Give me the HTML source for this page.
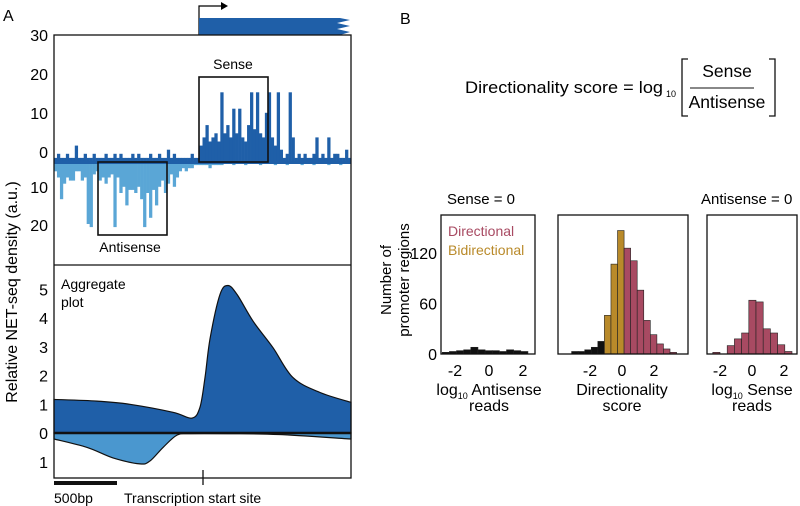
<!DOCTYPE html>
<html><head><meta charset="utf-8"><style>
html,body{margin:0;padding:0;background:#fff}
svg{display:block;font-family:"Liberation Sans",Arial,sans-serif}
</style></head><body>
<svg id="fig" width="800" height="506" viewBox="0 0 800 506">
<g id="panelA"></g>
<g id="panelB"></g>
</svg>
<script>
// ---- Panel A: NET-seq track data ----
const senseTrack=[1,2,1,1,2,1,1,4,1,1,2,1,1,2,1,1,1,2,1,1,2,1,2,1,1,1,2,1,2,1,1,1,2,1,1,2,1,1,3,1,2,1,1,1,1,1,2,1,1,
4,6,9,5,6,7,5,17,7,9,6,13,7,13,6,5,9,17,8,17,7,6,12,17,
6,4,17,3,1,2,17,6,1,2,1,2,1,1,2,6,1,2,1,6,1,2,2,1,1,3,1];
const antiTrack=[3,5,12,7,5,6,6,3,3,6,5,20,21,4,3,6,5,7,5,4,21,5,10,8,14,9,9,10,8,12,21,10,18,9,14,8,6,10,7,4,8,5,3,2,3,2,2,1,1,1,
1,1,2,1,1,1,1,0,0,0,1,0,0,0,1,0,0,0,0,1,0,0,0,0,1,0,0,0,1,0,0,0,0,1,0,0,0,1,0,0,0,0,1,0,0,0,1,0,0,0];
const trackTicksUp=[30,20,10,0];
const trackTicksDown=[10,20];
// ---- Aggregate plot data ----
const aggSensePos=[-1183,-841,-580,-238,-87,-24,16,56,135,198,270,397,556,714,929,1183];
const aggSenseVal=[1.17,1.11,1.0,0.72,0.52,0.9,1.93,3.3,4.83,5.14,4.83,3.9,2.97,1.93,1.41,1.07];
const aggAntiPos=[-1183,-920,-714,-500,-420,-317,-206,-100,200,600,1183];
const aggAntiVal=[0.2,0.48,0.83,1.03,0.93,0.48,0.07,0.02,0.02,0.05,0.2];
const aggTicksUp=[5,4,3,2,1,0];
const aggTicksDown=[1];
// ---- Panel B histograms ----
const h1Start=-2.75, h1Width=0.42;
const h1Counts=[2,3,4,5,8,5,4,4,3,5,4,3];
const h2Start=-3.15, h2Width=0.41;
const h2Counts=[3,3,5,8,15,46,107,147,126,111,76,40,23,12,6,2];
const h2Class=["n","n","n","n","n","b","b","b","d","d","d","d","d","d","d","d"];
const h3Start=-2.45, h3Width=0.45;
const h3Counts=[2,0,10,18,25,64,62,30,25,11,3];
const histTicksY=[0,60,120];
const histTicksX=[-2,0,2];

const NS="http://www.w3.org/2000/svg";
function mk(parent,tag,attrs,text){const e=document.createElementNS(NS,tag);for(const k in attrs)e.setAttribute(k,attrs[k]);if(text!==undefined)e.textContent=text;parent.appendChild(e);return e;}
const A=document.getElementById('panelA'), B=document.getElementById('panelB');
const DB="#1f5fa8", LB="#5aa6d6", RED="#a84a62", GOLD="#b98a2a";

let t=mk(A,'text',{x:3,y:21,'font-size':16},'A');

let g=mk(A,'path',{d:'M199,35 V6 H222',fill:'none',stroke:'#000','stroke-width':1.2});

g=mk(A,'path',{d:'M221,2 L228,6 L221,10 Z',fill:'#000'});

g=mk(A,'path',{d:'M199,18 H340 L350,20 L337,23 L350,26 L337,29 L350,32 L340,35 H199 Z',fill:DB});


const X0=54,X1=351,BASE=162;
const sxTrack=i=>X0+i*(X1-X0)/senseTrack.length;
const syUp=v=>BASE-4.1*v;
const syDown=v=>BASE+3.1*v;
const tickLabUp=v=>35+(30-v)*3.9;
const tickLabDown=v=>149+v*3.8;
const bw=(X1-X0)/senseTrack.length;
antiTrack.forEach((v,i)=>{if(v<=0)return;const r=mk(A,'rect',{x:sxTrack(i),y:BASE,width:bw+0.3,height:syDown(v)-BASE,fill:LB});
});
senseTrack.forEach((v,i)=>{const r=mk(A,'rect',{x:sxTrack(i),y:syUp(v),width:bw+0.3,height:BASE-syUp(v)+1,fill:DB});
});
g=mk(A,'rect',{x:X0,y:BASE-1,width:X1-X0,height:3,fill:DB});

trackTicksUp.forEach(v=>{const e=mk(A,'text',{x:48,y:tickLabUp(v)+6,'font-size':16,'text-anchor':'end'},String(v));
});
trackTicksDown.forEach(v=>{const e=mk(A,'text',{x:48,y:tickLabDown(v)+6,'font-size':16,'text-anchor':'end'},String(v));
});
g=mk(A,'rect',{x:199,y:77,width:69,height:85,fill:'none',stroke:'#111','stroke-width':1.6});

g=mk(A,'rect',{x:98,y:162,width:69,height:73,fill:'none',stroke:'#111','stroke-width':1.6});

t=mk(A,'text',{x:233,y:69,'font-size':14,'text-anchor':'middle'},'Sense');

t=mk(A,'text',{x:130,y:252,'font-size':14,'text-anchor':'middle'},'Antisense');


const sxAgg=bp=>203+bp*63/500;
const syAgg=v=>433-28.7*v;
const syAggD=v=>433+30*v;
function smooth(pts){let d='M'+pts[0][0]+','+pts[0][1];for(let i=0;i<pts.length-1;i++){const p0=pts[Math.max(0,i-1)],p1=pts[i],p2=pts[i+1],p3=pts[Math.min(pts.length-1,i+2)];
const c1=[p1[0]+(p2[0]-p0[0])/6,p1[1]+(p2[1]-p0[1])/6],c2=[p2[0]-(p3[0]-p1[0])/6,p2[1]-(p3[1]-p1[1])/6];
d+=' C'+c1[0].toFixed(1)+','+c1[1].toFixed(1)+' '+c2[0].toFixed(1)+','+c2[1].toFixed(1)+' '+p2[0].toFixed(1)+','+p2[1].toFixed(1);}return d;}
const sp=aggSensePos.map((p,i)=>[Math.max(X0,Math.min(X1,sxAgg(p))),syAgg(aggSenseVal[i])]);
const ap=aggAntiPos.map((p,i)=>[Math.max(X0,Math.min(X1,sxAgg(p))),syAggD(aggAntiVal[i])]);
g=mk(A,'path',{d:smooth(ap)+' L'+X1+',433 L'+X0+',433 Z',fill:'#4a97cf',stroke:'#111','stroke-width':1.2});

g=mk(A,'path',{d:smooth(sp)+' L'+X1+',433 L'+X0+',433 Z',fill:DB,stroke:'#111','stroke-width':1.2});

g=mk(A,'line',{x1:X0,x2:X1,y1:433,y2:433,stroke:'#111','stroke-width':2.5});

aggTicksUp.forEach(v=>{const e=mk(A,'text',{x:48,y:syAgg(v)+6,'font-size':16,'text-anchor':'end'},String(v));
});
aggTicksDown.forEach(v=>{const e=mk(A,'text',{x:48,y:syAggD(v)+5,'font-size':16,'text-anchor':'end'},String(v));
});
t=mk(A,'text',{x:61,y:289,'font-size':14},'Aggregate');

t=mk(A,'text',{x:61,y:307,'font-size':14},'plot');

g=mk(A,'rect',{x:X0,y:35,width:X1-X0,height:443,fill:'none',stroke:'#111','stroke-width':1.3});

g=mk(A,'line',{x1:X0,x2:X1,y1:265,y2:265,stroke:'#111','stroke-width':1.3});

g=mk(A,'line',{x1:sxAgg(0),x2:sxAgg(0),y1:470,y2:485,stroke:'#111','stroke-width':1.3});

g=mk(A,'rect',{x:54,y:481,width:63,height:4,fill:'#111'});

t=mk(A,'text',{x:54,y:503,'font-size':14},'500bp');

t=mk(A,'text',{x:124,y:503,'font-size':14},'Transcription start site');

t=mk(A,'text',{x:0,y:0,'font-size':16,'text-anchor':'middle',transform:'translate(17,292) rotate(-90)'},'Relative NET-seq density (a.u.)');


// ---- Panel B ----
t=mk(B,'text',{x:400,y:24,'font-size':16},'B');

t=mk(B,'text',{x:465,y:93,'font-size':17,textLength:198,lengthAdjust:'spacingAndGlyphs'},'Directionality score = log');

t=mk(B,'text',{x:666,y:97,'font-size':9},'10');

t=mk(B,'text',{x:727,y:77,'font-size':17.5,'text-anchor':'middle'},'Sense');

g=mk(B,'line',{x1:690,x2:754,y1:88,y2:88,stroke:'#111','stroke-width':1});

t=mk(B,'text',{x:727,y:108,'font-size':17.5,'text-anchor':'middle'},'Antisense');

g=mk(B,'path',{d:'M688,59 H682 V116 H688 M769,59 H775 V116 H769',fill:'none',stroke:'#111','stroke-width':1.3});


const HBASE=354;
const syH=v=>HBASE-0.84*v;
function hist(x0,x1,zeroX,unit,start,width,counts,colorFn,name){
 const sx=v=>zeroX+v*unit;
 counts.forEach((c,i)=>{const xa=sx(start+i*width),xb=sx(start+(i+1)*width);
  const r=mk(B,'rect',{x:xa,y:syH(c),width:xb-xa,height:HBASE-syH(c),fill:colorFn(i),stroke:'#222','stroke-width':0.6});
  });
 const f=mk(B,'rect',{x:x0,y:215,width:x1-x0,height:HBASE-215,fill:'none',stroke:'#111','stroke-width':1.3});
 
 histTicksX.forEach(v=>{const e=mk(B,'text',{x:sx(v),y:376,'font-size':16,'text-anchor':'middle'},v<0?'-'+Math.abs(v):String(v));
  });
}
hist(441,535,489,17,h1Start,h1Width,h1Counts,()=>'#111','hist-sense-zero');
hist(558,688,622,16,h2Start,h2Width,h2Counts,i=>h2Class[i]==='n'?'#111':h2Class[i]==='b'?GOLD:RED,'hist-directionality');
hist(707,797,752,16,h3Start,h3Width,h3Counts,()=>RED,'hist-antisense-zero');
histTicksY.forEach(v=>{const e=mk(B,'text',{x:437,y:syH(v)+6,'font-size':16,'text-anchor':'end'},String(v));
 });
t=mk(B,'text',{x:0,y:0,'font-size':15,'text-anchor':'middle',transform:'translate(391,280) rotate(-90)'},'Number of');

t=mk(B,'text',{x:0,y:0,'font-size':15,'text-anchor':'middle',transform:'translate(409,280) rotate(-90)'},'promoter regions');

t=mk(B,'text',{x:447,y:204,'font-size':15},'Sense = 0');

t=mk(B,'text',{x:701,y:204,'font-size':15},'Antisense = 0');

t=mk(B,'text',{x:448,y:236,'font-size':14,fill:RED},'Directional');

t=mk(B,'text',{x:448,y:255,'font-size':14,fill:GOLD},'Bidirectional');

function xl(x,y,parts,name){const e=mk(B,'text',{x:x,y:y,'font-size':16,'text-anchor':'middle'});
 parts.forEach(p=>{mk(e,'tspan',p.sub?{'font-size':9,dy:4}:(p.up?{dy:-4}:{}),p.t);});
 }
xl(489,395,[{t:'log'},{t:'10',sub:1},{t:' Antisense',up:1}],'hist1-x-title');
xl(489,411,[{t:'reads'}],'hist1-x-title-2');
xl(622,395,[{t:'Directionality'}],'hist2-x-title');
xl(622,411,[{t:'score'}],'hist2-x-title-2');
xl(752,395,[{t:'log'},{t:'10',sub:1},{t:' Sense',up:1}],'hist3-x-title');
xl(752,411,[{t:'reads'}],'hist3-x-title-2');
</script>
</body></html>
